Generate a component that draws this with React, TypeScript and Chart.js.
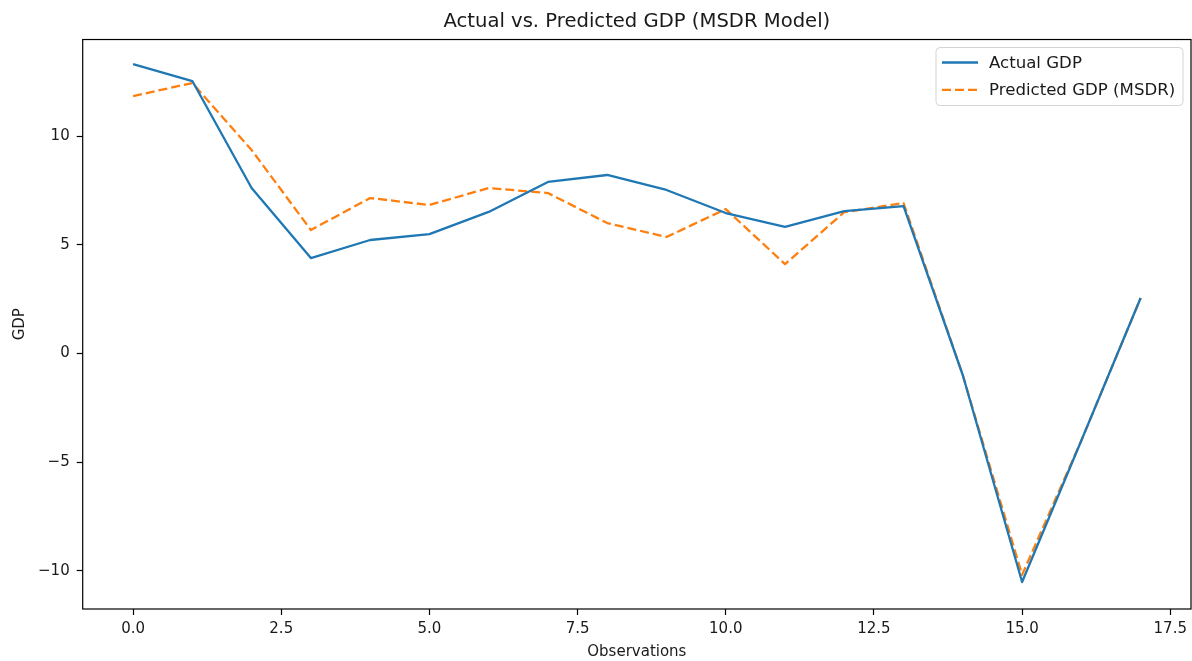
import { useEffect, useRef } from 'react';
import { Chart, registerables } from 'chart.js';

Chart.register(...registerables);

const FONT = '"DejaVu Sans", "Liberation Sans", sans-serif';
const TEXT = '#1a1a1a';

const observations = [0, 1, 2, 3, 4, 5, 6, 7, 8, 9, 10, 11, 12, 13, 14, 15, 16, 17];
const actualGdp = [13.31, 12.53, 7.61, 4.39, 5.22, 5.49, 6.51, 7.89, 8.21, 7.52, 6.46, 5.82, 6.55, 6.78, -1.0, -10.51, -4.0, 2.55];
const predictedGdp = [11.84, 12.44, 9.36, 5.68, 7.15, 6.83, 7.61, 7.38, 6.0, 5.36, 6.64, 4.11, 6.5, 6.92, -1.0, -10.18, -4.0, 2.55];
const xTicks = [0, 2.5, 5, 7.5, 10, 12.5, 15, 17.5];
const yTicks = [-10, -5, 0, 5, 10];
const seriesNames = ['Actual GDP', 'Predicted GDP (MSDR)'];

const framePlugin = {
  id: 'frame',
  afterDatasetsDraw(chart: any) {
    const { ctx, chartArea: a } = chart;
    ctx.save();
    ctx.strokeStyle = '#000';
    ctx.lineWidth = 1.2;
    ctx.strokeRect(a.left, a.top, a.right - a.left, a.bottom - a.top);
    ctx.restore();
  },
};

const legendPlugin = {
  id: 'mplLegend',
  afterDraw(chart: any) {
    const { ctx, chartArea: a } = chart;
    const w = 247;
    const h = 58;
    const x0 = a.right - 8 - w;
    const y0 = a.top + 8;
    ctx.save();
    ctx.beginPath();
    const r = 4;
    ctx.moveTo(x0 + r, y0);
    ctx.lineTo(x0 + w - r, y0);
    ctx.quadraticCurveTo(x0 + w, y0, x0 + w, y0 + r);
    ctx.lineTo(x0 + w, y0 + h - r);
    ctx.quadraticCurveTo(x0 + w, y0 + h, x0 + w - r, y0 + h);
    ctx.lineTo(x0 + r, y0 + h);
    ctx.quadraticCurveTo(x0, y0 + h, x0, y0 + h - r);
    ctx.lineTo(x0, y0 + r);
    ctx.quadraticCurveTo(x0, y0, x0 + r, y0);
    ctx.closePath();
    ctx.fillStyle = 'rgba(255,255,255,0.8)';
    ctx.fill();
    ctx.strokeStyle = '#d4d4d4';
    ctx.lineWidth = 1;
    ctx.stroke();
    chart.data.datasets.forEach((ds: any, i: number) => {
      const y = y0 + 15 + i * 27.3;
      ctx.beginPath();
      ctx.setLineDash(ds.borderDash || []);
      ctx.strokeStyle = ds.borderColor;
      ctx.lineWidth = ds.borderWidth;
      ctx.moveTo(x0 + 6, y);
      ctx.lineTo(x0 + 42, y);
      ctx.stroke();
      ctx.setLineDash([]);
      ctx.fillStyle = TEXT;
      ctx.font = `16.6px ${FONT}`;
      ctx.textBaseline = 'middle';
      ctx.textAlign = 'left';
      ctx.fillText(ds.label, x0 + 53, y + 1);
    });
    ctx.restore();
  },
};

export default function App() {
  const ref = useRef<HTMLCanvasElement>(null);
  useEffect(() => {
    document.body.style.margin = '0';
    const chart = new Chart(ref.current as HTMLCanvasElement, {
      type: 'line',
      data: {
        datasets: [
          {
            label: seriesNames[0],
            data: observations.map((x, i) => ({ x, y: actualGdp[i] })),
            borderColor: '#1f77b4',
            borderWidth: 2.3,
            borderJoinStyle: 'round',
            pointRadius: 0,
            fill: false,
            tension: 0,
          },
          {
            label: seriesNames[1],
            data: observations.map((x, i) => ({ x, y: predictedGdp[i] })),
            borderColor: '#ff7f0e',
            borderWidth: 2.3,
            borderDash: [9, 4],
            borderJoinStyle: 'round',
            pointRadius: 0,
            fill: false,
            tension: 0,
          },
        ],
      },
      options: {
        animation: false,
        responsive: false,
        events: [],
        layout: { padding: { top: 0, right: 1, left: 0, bottom: 0 } },
        plugins: {
          legend: { display: false },
          tooltip: { enabled: false },
          title: {
            display: true,
            text: 'Actual vs. Predicted GDP (MSDR Model)',
            fullSize: false,
            color: TEXT,
            font: { family: FONT, size: 19.6, weight: 'normal' },
            padding: { top: 10, bottom: 6 },
          },
        },
        scales: {
          x: {
            type: 'linear',
            min: -0.85,
            max: 17.85,
            afterBuildTicks: (s: any) => {
              s.ticks = xTicks.map((value) => ({ value }));
            },
            afterFit: (s: any) => {
              s.height = 52;
            },
            ticks: {
              callback: (v: any) => Number(v).toFixed(1),
              color: TEXT,
              font: { family: FONT, size: 15 },
              padding: 5,
              maxRotation: 0,
              autoSkip: false,
              includeBounds: false,
            },
            grid: {
              drawOnChartArea: false,
              drawTicks: true,
              tickLength: 6,
              tickWidth: 1.2,
              tickColor: '#000',
            },
            border: { display: false },
            title: {
              display: true,
              text: 'Observations',
              color: TEXT,
              font: { family: FONT, size: 15 },
              padding: { top: 0, bottom: 0 },
            },
          },
          y: {
            type: 'linear',
            min: -11.75,
            max: 14.44,
            afterBuildTicks: (s: any) => {
              s.ticks = yTicks.map((value) => ({ value }));
            },
            afterFit: (s: any) => {
              s.width = 82.7;
            },
            ticks: {
              callback: (v: any) => String(v).replace('-', '\u2212'),
              color: TEXT,
              font: { family: FONT, size: 15 },
              padding: 7,
              autoSkip: false,
              includeBounds: false,
            },
            grid: {
              drawOnChartArea: false,
              drawTicks: true,
              tickLength: 6,
              tickWidth: 1.2,
              tickColor: '#000',
            },
            border: { display: false },
            title: {
              display: true,
              text: 'GDP',
              color: TEXT,
              font: { family: FONT, size: 15 },
              padding: { top: 11, bottom: 0 },
            },
          },
        },
      } as any,
      plugins: [framePlugin, legendPlugin],
    });
    return () => chart.destroy();
  }, []);
  return (
    <div style={{ width: 1192, height: 661, background: '#fff' }}>
      <canvas ref={ref} width={1192} height={661} style={{ display: 'block' }} />
    </div>
  );
}
